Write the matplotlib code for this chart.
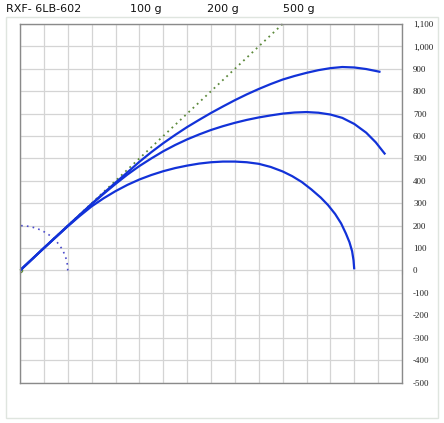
import numpy as np
import matplotlib.pyplot as plt
from matplotlib.patches import Rectangle
from matplotlib.ticker import FuncFormatter, NullFormatter

# trajectories (x, y)
low_x = [0, 100, 200, 250, 300, 350, 400, 450, 500, 550, 600, 650, 700, 750, 800, 850, 900, 950,
         1000, 1050, 1100, 1140, 1180, 1220, 1260, 1290, 1320, 1345, 1365, 1380, 1391, 1397, 1400]
low_y = [0, 100, 197, 243, 286, 322, 354, 382, 406, 426, 443, 457, 468, 477, 483, 486, 486, 483,
         476, 462, 442, 421, 395, 362, 325, 292, 252, 210, 165, 126, 86, 45, 5]

mid_x = [0, 100, 200, 300, 350, 400, 450, 500, 550, 600, 650, 700, 750, 800, 850, 900, 950, 1000,
         1050, 1100, 1150, 1200, 1250, 1300, 1350, 1400, 1450, 1490, 1530]
mid_y = [0, 100, 199, 296, 342, 386, 428, 466, 500, 532, 560, 585, 607, 627, 644, 659, 672, 683,
         692, 700, 705, 707, 704, 696, 681, 654, 615, 572, 518]

top_x = [0, 100, 200, 300, 350, 400, 450, 500, 550, 600, 650, 700, 750, 800, 850, 900, 950, 1000,
         1050, 1100, 1150, 1200, 1250, 1300, 1350, 1400, 1450, 1510]
top_y = [0, 100, 199, 297, 345, 392, 438, 485, 528, 568, 605, 640, 672, 703, 732, 760, 786, 810,
         832, 852, 868, 882, 894, 903, 908, 906, 899, 886]

ref_x = [0, 1100]
ref_y = [0, 1100]

circ_r = 200
header = ["RXF- 6LB-602", "100 g", "200 g", "500 g"]
header_x = [6, 130, 207, 283]

fig = plt.figure(figsize=(4.44, 4.23), dpi=100)
fig.patches.append(Rectangle((6 / 444, 1 - 418 / 423), 432 / 444, 401 / 423,
                             transform=fig.transFigure, fill=False,
                             edgecolor='#dfe5df', linewidth=1))
ax = fig.add_axes([20 / 444, 1 - 382.5 / 423, 382 / 444, 358.5 / 423])

ax.set_xlim(0, 1600)
ax.set_ylim(-500, 1100)
ax.set_xticks(np.arange(0, 1601, 100))
ax.set_yticks(np.arange(-500, 1101, 100))
ax.grid(True, color='#d4d4d4', linewidth=0.9)
ax.set_axisbelow(True)
for s in ax.spines.values():
    s.set_color('#8a8a8a')
    s.set_linewidth(1)
ax.tick_params(axis='x', length=0, labelbottom=False)
ax.tick_params(axis='y', length=0, left=False, labelleft=False, right=False,
               labelright=True, labelsize=6.5, pad=8, labelcolor='#222222')
for lab in ax.get_yticklabels():
    lab.set_fontfamily('Liberation Serif')
ax.yaxis.set_major_formatter(FuncFormatter(lambda v, p: f"{int(v):,}"))

# small ticks hanging under the zero line
sec = ax.secondary_xaxis(500 / 1600)
sec.set_xticks(np.arange(0, 1601, 100))
sec.xaxis.set_major_formatter(NullFormatter())
sec.tick_params(direction='out', length=3, color='#9a9a9a')
sec.spines['bottom'].set_visible(False)
sec.spines['top'].set_visible(False)

ax.plot(ref_x, ref_y, linestyle=(0, (1, 2.2)), color='#5d8a3c', linewidth=1.3, clip_on=False)
ax.plot([0], [0], 'o', markersize=3, markerfacecolor='none', markeredgecolor='#5d8a3c')

t = np.linspace(0, np.pi / 2, 60)
ax.plot(circ_r * np.cos(t), circ_r * np.sin(t), linestyle=(0, (1, 2.5)),
        color='#4a4acb', linewidth=1.2)

for xs, ys in [(low_x, low_y), (mid_x, mid_y), (top_x, top_y)]:
    ax.plot(xs, ys, color='#1232d8', linewidth=1.6, solid_capstyle='butt', solid_joinstyle='round')

for txt, hx in zip(header, header_x):
    fig.text(hx / 444, 1 - 9 / 423, txt, fontsize=8, va='center', ha='left', color='#111111')

fig.savefig('out.png', dpi=100)
